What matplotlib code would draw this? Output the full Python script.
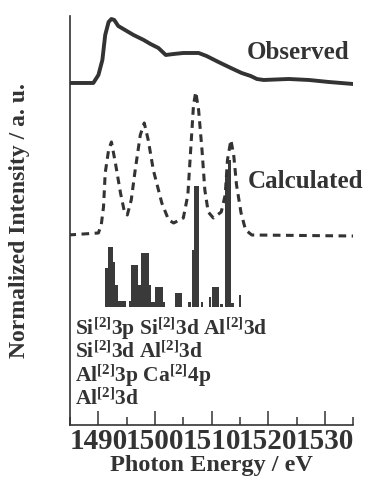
import matplotlib
matplotlib.use("Agg")
import matplotlib.pyplot as plt
from matplotlib.ticker import MultipleLocator

# ---- data ----
obs_energy = [1484.7, 1489.1, 1490.0, 1490.7, 1491.2, 1491.8, 1492.3, 1492.8, 1493.5,
              1495.0, 1496.2, 1498.0, 1499.2, 1500.6, 1501.9, 1503.3, 1505.0, 1507.7,
              1509.1, 1511.2, 1513.4, 1515.3, 1516.9, 1518.0, 1519.2, 1523.6, 1527.2,
              1530.7, 1535.0]
obs_intensity = [3.42, 3.42, 3.50, 3.65, 3.90, 4.03, 4.06, 4.05, 3.99,
                 3.94, 3.90, 3.85, 3.81, 3.77, 3.70, 3.71, 3.72, 3.72,
                 3.69, 3.63, 3.57, 3.52, 3.49, 3.46, 3.45, 3.46, 3.45,
                 3.43, 3.41]

calc_energy = [1484.7, 1490.0, 1490.5, 1490.9, 1491.2, 1491.8, 1492.3, 1493.0, 1493.9,
               1494.6, 1495.1, 1495.8, 1496.5, 1497.4, 1498.1, 1498.8, 1499.7, 1501.2,
               1502.4, 1503.3, 1505.0, 1505.8, 1506.3, 1506.8, 1507.2, 1507.7, 1508.3,
               1508.8, 1509.4, 1510.3, 1511.7, 1512.4, 1512.8, 1513.4, 1513.9, 1514.4,
               1515.2, 1516.0, 1517.1, 1535.0]
calc_intensity = [1.90, 1.92, 2.00, 2.18, 2.52, 2.75, 2.83, 2.62, 2.32,
                  2.13, 2.10, 2.25, 2.55, 2.90, 3.02, 2.85, 2.55, 2.22,
                  2.05, 2.02, 2.07, 2.30, 2.75, 3.20, 3.33, 3.15, 2.75,
                  2.35, 2.13, 2.07, 2.13, 2.30, 2.65, 2.85, 2.70, 2.40,
                  2.12, 1.95, 1.90, 1.89]

stick_energy = [1491.5, 1492.0, 1492.3, 1492.75, 1493.25, 1493.75, 1494.25, 1494.6,
                1495.6, 1496.0, 1496.4, 1496.7, 1497.1, 1497.4, 1497.8, 1498.2, 1498.6,
                1499.1, 1499.6, 1499.9, 1500.3, 1500.7, 1501.1, 1501.6,
                1503.7, 1504.2, 1504.5, 1506.1, 1506.7, 1507.2, 1507.6, 1508.3,
                1509.7, 1510.3, 1510.7, 1511.0, 1511.8, 1512.6, 1513.1, 1513.7, 1515.0]
stick_height = [0.39, 0.60, 0.60, 0.45, 0.22, 0.06, 0.06, 0.06,
                0.06, 0.42, 0.42, 0.42, 0.22, 0.22, 0.54, 0.54, 0.54,
                0.22, 0.05, 0.05, 0.20, 0.20, 0.20, 0.05,
                0.14, 0.14, 0.14, 0.05, 0.57, 1.21, 1.21, 0.05,
                0.10, 0.20, 0.20, 0.20, 0.03, 1.32, 1.47, 0.04, 0.12]
stick_base = 1.18

orbital_lines = [r"Si$^{[2]}$3p Si$^{[2]}$3d Al$^{[2]}$3d",
                 r"Si$^{[2]}$3d Al$^{[2]}$3d",
                 r"Al$^{[2]}$3p Ca$^{[2]}$4p",
                 r"Al$^{[2]}$3d"]

ink = "#333333"
plt.rcParams["font.family"] = ["Liberation Serif", "DejaVu Serif"]
plt.rcParams["font.weight"] = "bold"
plt.rcParams["mathtext.default"] = "regular"

fig = plt.figure(figsize=(3.69, 4.80), dpi=100)
ax = fig.add_axes([0.19, 0.1146, 0.767, 0.8521])

ax.plot(obs_energy, obs_intensity, color=ink, lw=2.8, solid_capstyle="round")
calc, = ax.plot(calc_energy, calc_intensity, color=ink, lw=2.2)
calc.set_dashes((2.5, 1.8))
ax.bar(stick_energy, stick_height, width=0.5, bottom=stick_base, color="#3a3a3a", linewidth=0)

ax.text(1516.2, 3.72, "Observed", fontsize=18, fontweight="bold", color=ink, va="center")
ax.text(1516.4, 2.43, "Calculated", fontsize=18, fontweight="bold", color=ink, va="center")
for i, line in enumerate(orbital_lines):
    ax.text(1485.9, 0.90 - 0.235 * i, line, fontsize=15.5, fontweight="bold", color=ink,
            va="baseline")

ax.set_xlim(1485, 1535)
ax.set_ylim(0, 4.09)
ax.xaxis.set_major_locator(MultipleLocator(10))
ax.xaxis.set_minor_locator(MultipleLocator(5))
ax.tick_params(axis="x", which="major", direction="in", length=10, width=1.1, pad=2,
               labelsize=21, colors=ink)
ax.tick_params(axis="x", which="minor", direction="in", length=6, width=1.1, colors=ink)
ax.set_yticks([])
for lab in ax.get_xticklabels():
    lab.set_fontweight("bold")
for side in ("top", "right"):
    ax.spines[side].set_visible(False)
for side in ("left", "bottom"):
    ax.spines[side].set_linewidth(1.2)
    ax.spines[side].set_color(ink)

ax.set_xlabel("Photon Energy / eV", fontsize=17.5, fontweight="bold", color=ink, labelpad=0)
ax.set_ylabel("Normalized Intensity / a. u.", fontsize=17, fontweight="bold", color=ink,
              labelpad=29)

fig.savefig("out.png", dpi=100)
